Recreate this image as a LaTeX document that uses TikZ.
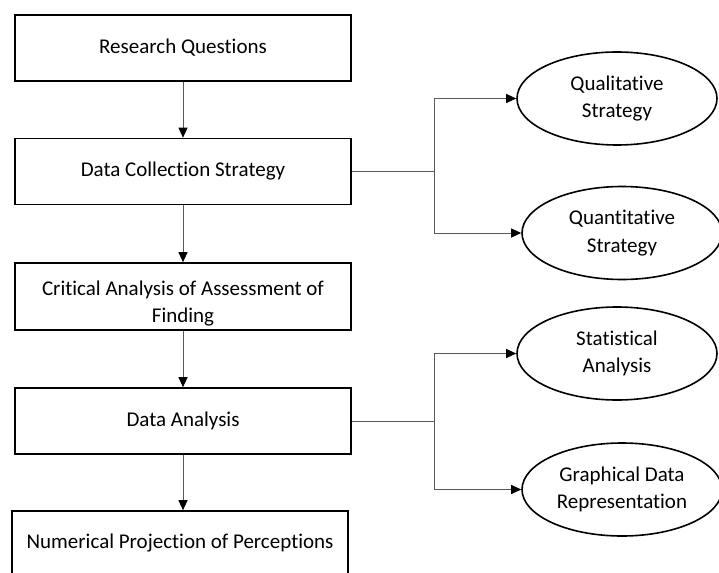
\documentclass[tikz,border=0pt]{standalone}
\usepackage{fontspec}
\setmainfont{Carlito}[Ligatures=NoCommon]
\usetikzlibrary{arrows.meta,shapes.geometric}
\begin{document}
\begin{tikzpicture}[x=1pt,y=-1pt,font=\fontsize{21}{27.5}\selectfont,
        stepbox/.style={draw,line width=1.6pt,minimum width=336pt,minimum height=66pt,align=center,inner sep=0pt},
        oval/.style={draw,ellipse,line width=1.6pt,minimum width=200pt,minimum height=93pt,align=center,inner sep=0pt},
        conn/.style={draw=black!65,line width=1pt},
        arr/.style={conn,-{Triangle[length=10pt,width=9pt,color=black]}}]
        \useasboundingbox (0,0) rectangle (719,572);
        % main column
        \node[stepbox] (rq) at (183,48) {Research Questions};
        \node[stepbox] (dcs) at (183,171.5) {Data Collection Strategy};
        \node[stepbox,minimum height=67pt,
            label={[align=center,yshift=-7pt]center:Critical Analysis of Assessment of\\Finding}] (caf) at (183,296.5) {};
        \node[stepbox] (da) at (183,421) {Data Analysis};
        \node[stepbox,minimum height=64pt] (npp) at (180,543) {Numerical Projection of Perceptions};
        % side ovals
        \node[oval] (qual) at (617,98.5) {Qualitative\\Strategy};
        \node[oval] (quant) at (622,233) {Quantitative\\Strategy};
        \node[oval] (stat) at (617,353.5) {Statistical\\Analysis};
        \node[oval] (graph) at (622,489.5) {Graphical Data\\Representation};
        \coordinate (s1) at (434,171.5);
        \coordinate (s2) at (434,421);
        \draw[arr] (rq) -- (dcs);
        \draw[arr] (dcs) -- (caf);
        \draw[arr] (caf) -- (da);
        \draw[arr] (da.south) -- (da.south |- npp.north);
        \draw[conn] (dcs.east) -- (s1);
        \draw[arr] (s1) |- (qual.west);
        \draw[arr] (s1) |- (quant.west);
        \draw[conn] (da.east) -- (s2);
        \draw[arr] (s2) |- (stat.west);
        \draw[arr] (s2) |- (graph.west);
    \end{tikzpicture}
\end{document}
